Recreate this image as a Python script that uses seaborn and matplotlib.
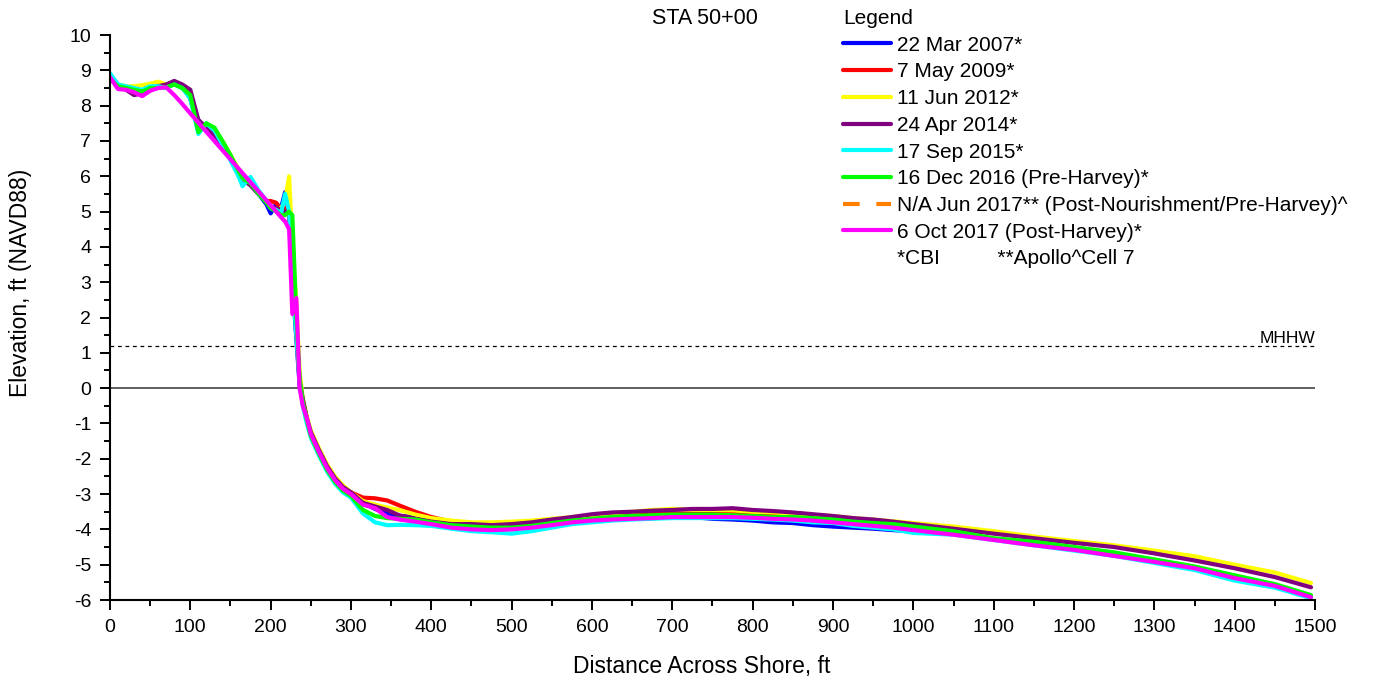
import numpy as np
import pandas as pd
import seaborn as sns
import matplotlib.pyplot as plt
from matplotlib.lines import Line2D
from matplotlib import font_manager

# survey profile data, STA 50+00
dist = [0, 10, 20, 30, 40, 50, 60, 70, 80, 90, 100, 110, 120, 130, 140, 150, 160, 165, 175, 185,
        195, 200, 207, 213, 218, 223, 227, 232, 236, 240, 245, 250, 260, 270, 280, 290, 300,
        315, 330, 345, 360, 380, 400, 425, 450, 475, 500, 525, 550, 575, 600, 625, 650, 675,
        700, 725, 750, 775, 800, 825, 850, 875, 900, 925, 950, 975, 1000,
        1050, 1100, 1150, 1200, 1250, 1300, 1350, 1400, 1450, 1495]

mar_2007 = [8.85, 8.6, 8.5, 8.42, 8.38, 8.5, 8.58, 8.58, 8.65, 8.55, 8.2, 7.35, 7.42, 7.25, 6.9, 6.5, 6.1, 5.9, 5.75, 5.5,
            5.2, 4.95, 5.22, 5.1, 5.55, 4.9, 3.0, 1.4, 0.1, -0.4, -0.85, -1.25, -1.75, -2.2, -2.55, -2.8, -3.0,
            -3.25, -3.42, -3.55, -3.62, -3.65, -3.72, -3.82, -3.9, -3.95, -3.95, -3.9, -3.85, -3.8, -3.75, -3.72, -3.7, -3.68,
            -3.66, -3.65, -3.7, -3.72, -3.75, -3.8, -3.82, -3.88, -3.92, -3.95, -3.98, -4.02, -4.05,
            None, None, None, None, None, None, None, None, None, None]
may_2009 = [8.8, 8.58, 8.5, 8.45, 8.4, 8.5, 8.6, 8.58, 8.62, 8.5, 8.25, 7.4, 7.42, 7.22, 6.92, 6.52, 6.12, 5.92, 5.75, 5.52,
            5.3, 5.3, 5.25, 5.05, 5.1, 4.95, 3.5, 1.6, 0.2, -0.35, -0.85, -1.25, -1.75, -2.2, -2.55, -2.8, -2.95,
            -3.1, -3.12, -3.18, -3.32, -3.5, -3.65, -3.78, -3.85, -3.85, -3.85, -3.8, -3.75, -3.7, -3.65, -3.6, -3.58, -3.56,
            -3.55, -3.55, -3.56, -3.56, -3.58, -3.6, -3.63, -3.66, -3.7, -3.74, -3.78, -3.83, -3.88,
            -3.98, None, None, None, None, None, None, None, None, None]
jun_2012 = [8.8, 8.6, 8.55, 8.55, 8.58, 8.62, 8.68, 8.6, 8.65, 8.5, 8.3, 7.5, 7.45, 7.3, 7.0, 6.6, 6.2, 6.0, 5.8, 5.55,
            5.3, 5.15, 5.05, 5.1, 5.3, 6.0, 4.0, 2.4, 0.5, -0.3, -0.8, -1.2, -1.7, -2.15, -2.5, -2.75, -2.95,
            -3.2, -3.3, -3.38, -3.45, -3.58, -3.68, -3.75, -3.8, -3.8, -3.78, -3.75, -3.7, -3.65, -3.6, -3.55, -3.5, -3.45,
            -3.42, -3.44, -3.45, -3.46, -3.5, -3.52, -3.55, -3.6, -3.62, -3.68, -3.72, -3.77, -3.82,
            -3.92, -4.05, -4.2, -4.33, -4.45, -4.6, -4.76, -5.0, -5.22, -5.52]
apr_2014 = [8.8, 8.55, 8.45, 8.3, 8.35, 8.5, 8.55, 8.6, 8.7, 8.6, 8.45, 7.6, 7.38, 7.15, 6.9, 6.5, 6.1, 5.95, 5.75, 5.5,
            5.3, 5.1, 5.1, 5.05, 5.0, 4.9, 3.5, 1.8, 0.2, -0.3, -0.85, -1.25, -1.75, -2.2, -2.55, -2.8, -2.95,
            -3.25, -3.35, -3.45, -3.6, -3.7, -3.78, -3.85, -3.85, -3.88, -3.85, -3.8, -3.72, -3.65, -3.57, -3.52, -3.5, -3.47,
            -3.45, -3.42, -3.42, -3.4, -3.45, -3.48, -3.52, -3.57, -3.62, -3.68, -3.72, -3.78, -3.85,
            -3.98, -4.12, -4.25, -4.38, -4.5, -4.68, -4.88, -5.1, -5.35, -5.64]
sep_2015 = [8.92, 8.6, 8.55, 8.5, 8.45, 8.55, 8.55, 8.5, 8.6, 8.5, 8.2, 7.2, 7.5, 7.3, 6.9, 6.45, 6.0, 5.72, 5.98, 5.6,
            5.3, 5.1, 5.05, 4.95, 5.5, 5.0, 3.0, 1.5, 0.2, -0.5, -1.0, -1.4, -1.9, -2.35, -2.7, -2.95, -3.1,
            -3.55, -3.8, -3.88, -3.87, -3.88, -3.9, -3.98, -4.05, -4.08, -4.12, -4.05, -3.95, -3.85, -3.8, -3.75, -3.72, -3.7,
            -3.68, -3.68, -3.68, -3.68, -3.7, -3.72, -3.75, -3.8, -3.82, -3.9, -3.95, -4.0, -4.1,
            -4.15, -4.3, -4.45, -4.6, -4.75, -4.95, -5.15, -5.45, -5.65, -5.95]
dec_2016 = [8.75, 8.55, 8.5, 8.45, 8.4, 8.5, 8.5, 8.52, 8.6, 8.5, 8.3, 7.25, 7.5, 7.38, 7.0, 6.6, 6.15, 5.95, 5.8, 5.5,
            5.25, 5.1, 5.0, 4.9, 4.9, 5.0, 4.9, 2.0, 0.3, -0.4, -0.9, -1.35, -1.85, -2.3, -2.65, -2.9, -3.05,
            -3.45, -3.62, -3.68, -3.7, -3.72, -3.8, -3.88, -3.92, -3.95, -3.95, -3.9, -3.82, -3.75, -3.7, -3.65, -3.62, -3.6,
            -3.58, -3.58, -3.58, -3.6, -3.62, -3.65, -3.65, -3.68, -3.72, -3.78, -3.82, -3.85, -3.92,
            -4.05, -4.25, -4.35, -4.5, -4.65, -4.85, -5.05, -5.3, -5.55, -5.86]
oct_2017 = [8.81, 8.47, 8.45, 8.38, 8.27, 8.42, 8.5, 8.52, 8.3, 8.05, 7.78, 7.52, 7.26, 7.0, 6.74, 6.48, 6.22, 6.09, 5.83, 5.57,
            5.31, 5.18, 5.0, 4.84, 4.72, 4.5, 2.1, 2.55, 0.0, -0.5, -0.85, -1.3, -1.8, -2.25, -2.6, -2.85, -3.0,
            -3.3, -3.4, -3.65, -3.72, -3.78, -3.85, -3.95, -4.0, -4.02, -4.0, -3.95, -3.88, -3.8, -3.75, -3.72, -3.7, -3.68,
            -3.65, -3.65, -3.65, -3.65, -3.67, -3.7, -3.72, -3.75, -3.8, -3.85, -3.9, -3.95, -4.02,
            -4.15, -4.3, -4.45, -4.58, -4.75, -4.92, -5.1, -5.38, -5.6, -5.92]

surveys = ["22 Mar 2007*", "7 May 2009*", "11 Jun 2012*", "24 Apr 2014*",
           "17 Sep 2015*", "16 Dec 2016 (Pre-Harvey)*", "6 Oct 2017 (Post-Harvey)*"]
colors = ["#0000FF", "#FF0000", "#FFFF00", "#800080", "#00FFFF", "#00FF00", "#FF00FF"]
na_label = "N/A Jun 2017** (Post-Nourishment/Pre-Harvey)^"
note_label = "*CBI          **Apollo^Cell 7"
mhhw = 1.2

frames = []
for name, elev in zip(surveys, [mar_2007, may_2009, jun_2012, apr_2014, sep_2015, dec_2016, oct_2017]):
    frames.append(pd.DataFrame({"Distance": dist, "Elevation": elev, "Survey": name}))
df = pd.concat(frames).dropna()

sns.set_style("ticks")
plt.rcParams['font.family'] = ['Liberation Sans', 'DejaVu Sans']
plt.rcParams['axes.unicode_minus'] = False
plt.rcParams['text.color'] = 'black'
plt.rcParams['axes.labelcolor'] = 'black'
plt.rcParams['xtick.color'] = 'black'
plt.rcParams['ytick.color'] = 'black'

names = {f.name for f in font_manager.fontManager.ttflist}
if 'Liberation Sans Narrow' in names:
    tick_font = dict(family='Liberation Sans Narrow', size=15)
else:
    tick_font = dict(family='Liberation Sans', size=14)

fig = plt.figure(figsize=(13.78, 6.87), dpi=100)
ax = fig.add_axes([0.0798, 0.1266, 0.8745, 0.8224])

ax.axhline(0, color='#333333', lw=1.1, zorder=1)
ax.axhline(mhhw, color='black', lw=0.9, ls=(0, (3, 3)), zorder=1)
ax.text(1500, mhhw + 0.07, "MHHW", ha='right', va='baseline', fontsize=12.5)

sns.lineplot(data=df, x="Distance", y="Elevation", hue="Survey", hue_order=surveys,
             palette=dict(zip(surveys, colors)), linewidth=3, estimator=None,
             sort=False, legend=False, ax=ax)

ax.set_xlim(0, 1500)
ax.set_ylim(-6, 10)
ax.set_xticks(np.arange(0, 1501, 100))
ax.set_xticks(np.arange(0, 1501, 50), minor=True)
ax.set_yticks(np.arange(-6, 11, 1))
ax.set_yticks(np.arange(-6, 10.1, 0.5), minor=True)
for lab in ax.get_xticklabels() + ax.get_yticklabels():
    lab.set_fontfamily(tick_font['family'])
    lab.set_fontsize(tick_font['size'])
ax.tick_params(which='major', length=7.5, width=1.4, direction='out', color='black', labelcolor='black')
ax.tick_params(which='minor', length=4, width=1.4, direction='out', color='black')
ax.tick_params(axis='x', pad=6.5)
ax.tick_params(axis='y', pad=6)
for s in ['top', 'right']:
    ax.spines[s].set_visible(False)
for s in ['left', 'bottom']:
    ax.spines[s].set_linewidth(1.5)
    ax.spines[s].set_color('black')

ax.set_xlabel("Distance Across Shore, ft", fontsize=16.5, color='black')
ax.set_ylabel("Elevation, ft (NAVD88)", fontsize=16.5, color='black')
ax.xaxis.set_label_coords(0.491, -0.098)
ax.yaxis.set_label_coords(-0.065, 0.561)

fig.text(705 / 1378, 1 - 18 / 687, "STA 50+00", ha='center', va='center', fontsize=15.5, color='black')

handles = [Line2D([], [], color=c, lw=3) for c in colors[:6]]
handles.append(Line2D([], [], color='#FF8000', lw=3, ls=(0, (4, 4))))
handles.append(Line2D([], [], color=colors[6], lw=3))
handles.append(Line2D([], [], color='none', lw=0))
labels = surveys[:6] + [na_label, surveys[6], note_label]
leg = fig.legend(handles, labels, loc='upper left', bbox_to_anchor=(843 / 1378, 1 - 9 / 687),
                 frameon=False, fontsize=15, title="Legend", title_fontsize=15, alignment='left',
                 handlelength=2.3, handletextpad=0.3, labelspacing=0.37, borderpad=0, borderaxespad=0,
                 labelcolor='black')
leg.get_title().set_color('black')

fig.savefig("out.png", dpi=100)
